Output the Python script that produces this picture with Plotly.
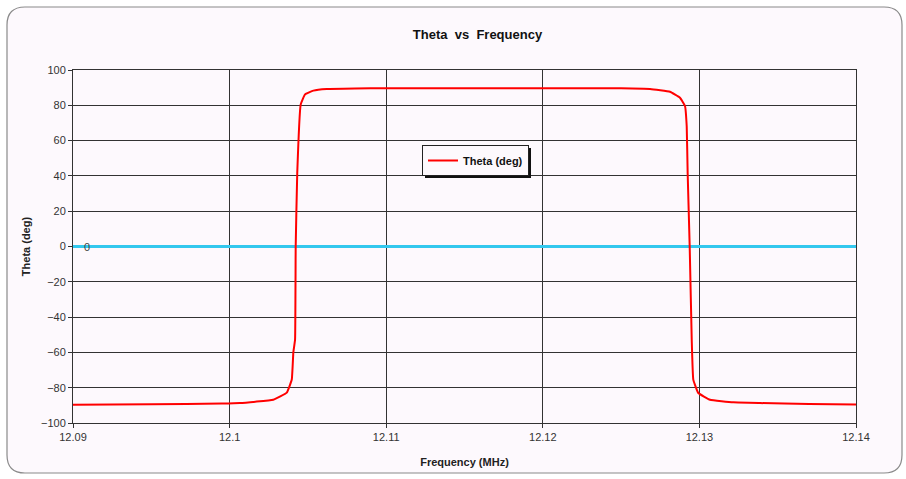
import plotly.graph_objects as go

# Phase angle of the response across the sweep
freq_mhz = [12.09, 12.095, 12.0995, 12.10066, 12.10279, 12.10365, 12.10397, 12.10407,
            12.10418, 12.10422, 12.10432, 12.10454, 12.10482, 12.10535, 12.1062, 12.108,
            12.11, 12.115, 12.12, 12.125, 12.12685, 12.12812, 12.12876, 12.12908,
            12.12919, 12.12925, 12.12938, 12.12951, 12.12961, 12.12993, 12.13068,
            12.13217, 12.13387, 12.137, 12.14]
theta_deg = [-89.6, -89.4, -89.0, -88.7, -86.8, -82.8, -75.4, -60.0,
             -52.8, 0.0, 41.8, 80.5, 86.2, 88.3, 89.2, 89.5,
             89.7, 89.7, 89.7, 89.6, 89.2, 87.7, 84.3, 79.6,
             68.0, 41.8, 0.0, -52.8, -75.4, -83.0, -86.8,
             -88.3, -88.7, -89.2, -89.5]

# Zero reference line
zero_freq = [12.09, 12.14]
zero_vals = [0, 0]

x_ticks = [12.09, 12.1, 12.11, 12.12, 12.13, 12.14]
x_tick_text = ["12.09", "12.1", "12.11", "12.12", "12.13", "12.14"]
y_ticks = list(range(-100, 101, 20))

font_family = "Liberation Sans, Arial, sans-serif"

# plot area in pixels: left 73, right 856, top 70, bottom 423
PL, PR, PT, PB = 73, 856, 70, 423


def px(x):
    return (x - PL) / (PR - PL)


def py(y):
    return (PB - y) / (PB - PT)


fig = go.Figure()

fig.add_trace(go.Scatter(
    x=zero_freq, y=zero_vals, mode="lines",
    line=dict(color="#33c8ee", width=3), showlegend=False, hoverinfo="skip",
))

fig.add_trace(go.Scatter(
    x=freq_mhz, y=theta_deg, mode="lines", name="<b>Theta (deg)</b>",
    line=dict(color="#ff0000", width=2, shape="spline", smoothing=0.3),
))

# data label on the zero line
fig.add_annotation(x=zero_freq[0], y=zero_vals[0], text=str(zero_vals[0]),
                   showarrow=False, xanchor="left", xshift=9,
                   font=dict(size=11, color="#444", family=font_family))

# Rounded chart frame
L, R, T, B, rad = 7, 902, 7, 473, 18
frame = (f"M {px(L + rad)},{py(T)} L {px(R - rad)},{py(T)} Q {px(R)},{py(T)} {px(R)},{py(T + rad)} "
         f"L {px(R)},{py(B - rad)} Q {px(R)},{py(B)} {px(R - rad)},{py(B)} L {px(L + rad)},{py(B)} "
         f"Q {px(L)},{py(B)} {px(L)},{py(B - rad)} L {px(L)},{py(T + rad)} Q {px(L)},{py(T)} {px(L + rad)},{py(T)} Z")

fig.update_layout(
    width=906, height=479,
    margin=dict(l=PL, r=906 - PR, t=PT, b=479 - PB),
    paper_bgcolor="white",
    plot_bgcolor="#fdf9fd",
    font=dict(family=font_family, size=11, color="#333"),
    title=dict(text="<b>Theta  vs  Frequency</b>", x=0.527, xanchor="center",
               y=0.929, yanchor="middle", font=dict(size=13, color="#111")),
    shapes=[dict(type="path", path=frame, xref="paper", yref="paper",
                 fillcolor="#fdf9fd", line=dict(color="#8a8a8a", width=1.2), layer="below"),
            # legend shadow
            dict(type="rect", xref="paper", yref="paper",
                 x0=px(425), x1=px(531), y0=py(178), y1=py(148),
                 fillcolor="#111", line=dict(width=0), layer="above")],
    xaxis=dict(range=[12.09, 12.14], tickvals=x_ticks, ticktext=x_tick_text,
               showgrid=True, gridcolor="#333", gridwidth=1, zeroline=False,
               showline=True, linecolor="#333", linewidth=1, mirror=True,
               ticks="outside", ticklen=4, tickcolor="#333",
               title=dict(text="<b>Frequency (MHz)</b>", font=dict(size=11, color="#222"), standoff=16)),
    yaxis=dict(range=[-100, 100], tickvals=y_ticks,
               showgrid=True, gridcolor="#333", gridwidth=1, zeroline=False,
               showline=True, linecolor="#333", linewidth=1, mirror=True,
               ticks="outside", ticklen=4, tickcolor="#333",
               title=dict(text="<b>Theta (deg)</b>", font=dict(size=11, color="#222"), standoff=8)),
    legend=dict(x=px(422), y=py(145), xanchor="left", yanchor="top",
                bgcolor="#fdf9fd", bordercolor="#222", borderwidth=1,
                font=dict(size=11, color="#111", family=font_family),
                itemwidth=30, tracegroupgap=0),
)

fig.write_html("out.html")
